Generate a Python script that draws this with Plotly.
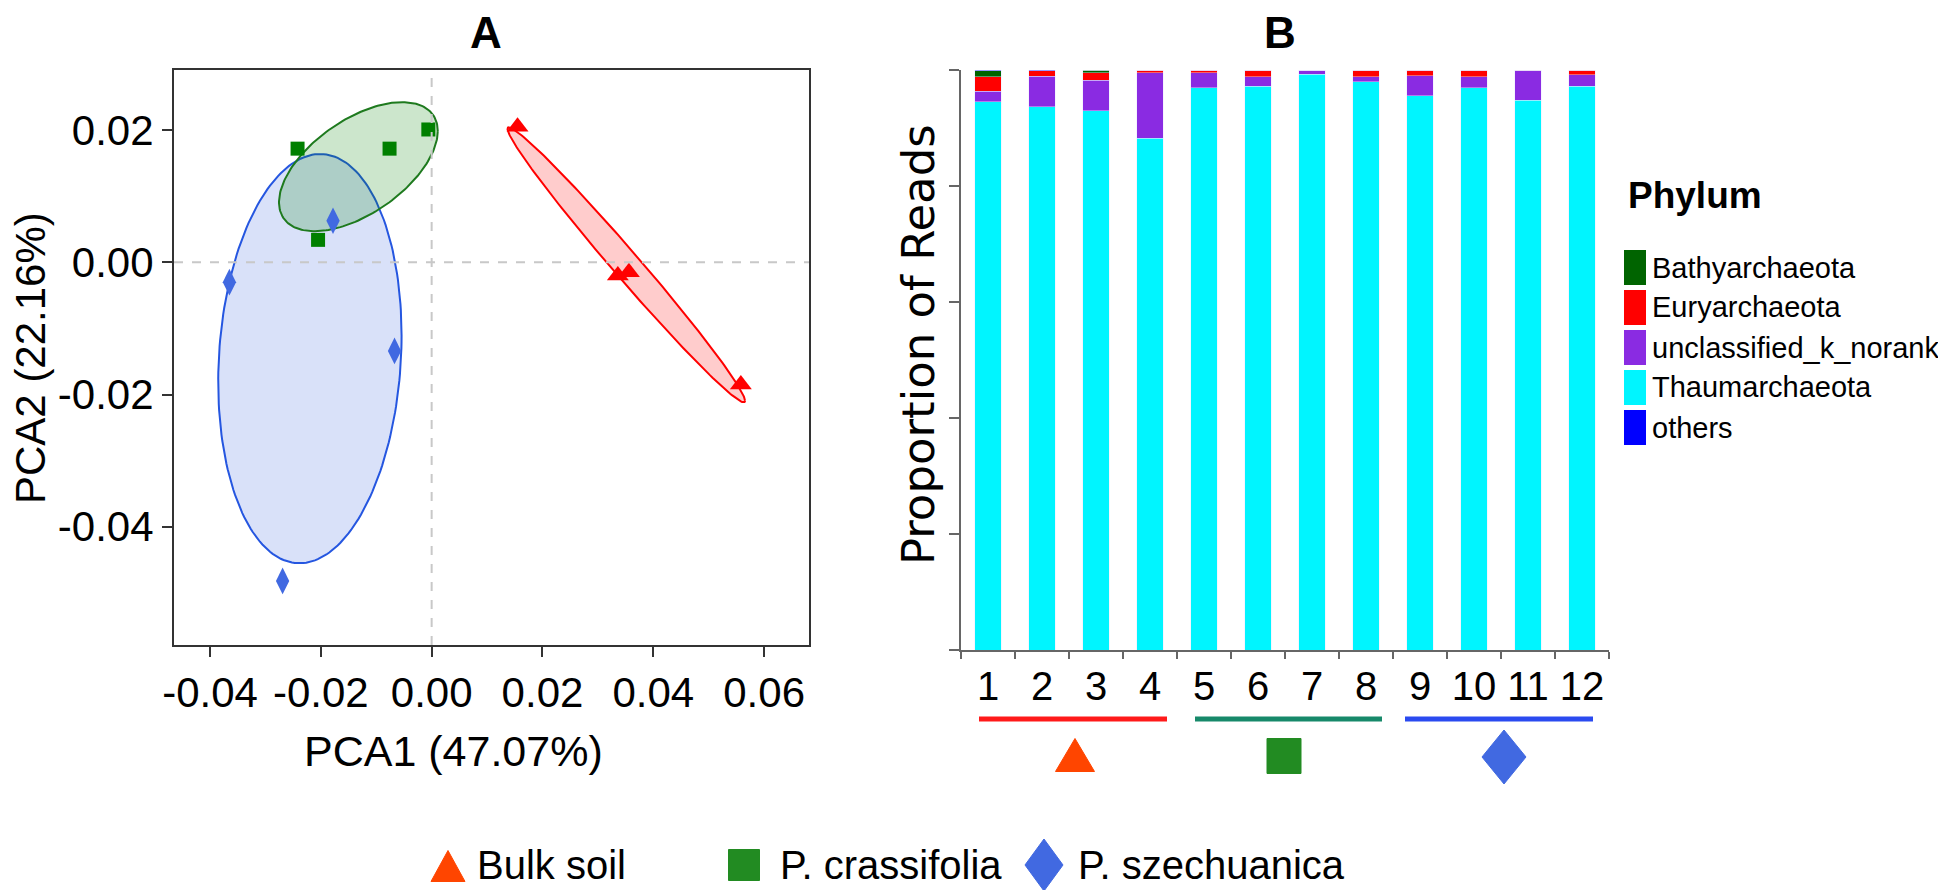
import numpy as np
import plotly.graph_objects as go

W, H = 1946, 890

# ---------------- Panel A data (PCA scores) ----------------
group_names = ["Bulk soil", "P. crassifolia", "P. szechuanica"]
bulk_x = [0.0155, 0.0336, 0.0356, 0.0558]
bulk_y = [0.0205, -0.0020, -0.0015, -0.0185]
cras_x = [-0.0242, -0.0076, -0.0006, -0.0205]
cras_y = [0.0172, 0.0172, 0.0201, 0.0034]
sze_x = [-0.0178, -0.0365, -0.0067, -0.0269]
sze_y = [0.0063, -0.0030, -0.0134, -0.0482]
pca_x_ticks = [-0.04, -0.02, 0.0, 0.02, 0.04, 0.06]
pca_x_labels = ["-0.04", "-0.02", "0.00", "0.02", "0.04", "0.06"]
pca_y_ticks = [-0.04, -0.02, 0.0, 0.02]
pca_y_labels = ["-0.04", "-0.02", "0.00", "0.02"]

# ---------------- Panel B data (relative abundance) ----------------
samples = ["1", "2", "3", "4", "5", "6", "7", "8", "9", "10", "11", "12"]
thaum = [0.945, 0.937, 0.930, 0.882, 0.969, 0.972, 0.993, 0.980, 0.956, 0.969, 0.948, 0.972]
unclass = [0.018, 0.052, 0.052, 0.113, 0.026, 0.016, 0.007, 0.008, 0.034, 0.019, 0.051, 0.020]
eury = [0.025, 0.010, 0.013, 0.005, 0.005, 0.012, 0.000, 0.012, 0.010, 0.012, 0.001, 0.008]
bathy = [0.011, 0.000, 0.005, 0.000, 0.000, 0.000, 0.000, 0.000, 0.000, 0.000, 0.000, 0.000]
others = [0.001, 0.001, 0.000, 0.000, 0.000, 0.000, 0.000, 0.000, 0.000, 0.000, 0.000, 0.000]
phyla = ["Bathyarchaeota", "Euryarchaeota", "unclassified_k_norank", "Thaumarchaeota", "others"]
phyla_colors = ["#006400", "#FF0000", "#8A2BE2", "#00F5FF", "#0000FF"]

FONT = "Liberation Sans, Arial, sans-serif"

def px(x):
    return x / W

def py(y):
    return 1 - y / H

def ellipse(xs, ys, k=1.3, n=200):
    pts = np.vstack([xs, ys])
    mu = pts.mean(axis=1)
    cov = np.cov(pts)
    L = np.linalg.cholesky(cov)
    t = np.linspace(0, 2 * np.pi, n)
    circ = np.vstack([np.cos(t), np.sin(t)])
    e = mu[:, None] + k * L @ circ
    return e[0], e[1]

fig = go.Figure()

# Ellipses (blue first, then green, then red)
ell_specs = [
    (sze_x, sze_y, "rgba(65,105,225,0.2)", "#2556E0"),
    (cras_x, cras_y, "rgba(0,128,0,0.2)", "#1E7A1E"),
    (bulk_x, bulk_y, "rgba(255,0,0,0.2)", "#FF0000"),
]
for xs, ys, fill, line in ell_specs:
    ex, ey = ellipse(xs, ys)
    fig.add_trace(go.Scatter(x=ex, y=ey, mode="lines", fill="toself", fillcolor=fill,
                             line=dict(color=line, width=2), xaxis="x", yaxis="y",
                             showlegend=False, hoverinfo="skip"))

# Points
fig.add_trace(go.Scatter(x=bulk_x, y=bulk_y, mode="markers", name=group_names[0],
                         marker=dict(symbol="triangle-up", size=19, color="#FF0000"),
                         xaxis="x", yaxis="y", showlegend=False))
fig.add_trace(go.Scatter(x=cras_x, y=cras_y, mode="markers", name=group_names[1],
                         marker=dict(symbol="square", size=14, color="#008000"),
                         xaxis="x", yaxis="y", showlegend=False))
fig.add_trace(go.Scatter(x=sze_x, y=sze_y, mode="markers", name=group_names[2],
                         marker=dict(symbol="diamond-tall", size=19, color="#4169E1"),
                         xaxis="x", yaxis="y", showlegend=False))

# Stacked bars (bottom to top)
stack = [(thaum, 3), (unclass, 2), (eury, 1), (bathy, 0), (others, 4)]
for vals, idx in stack:
    fig.add_trace(go.Bar(x=samples, y=vals, name=phyla[idx], marker=dict(color=phyla_colors[idx],
                         line=dict(color="rgba(230,230,255,0.7)", width=0.6)),
                         xaxis="x2", yaxis="y2", showlegend=False))

shapes = []
# zero lines panel A
shapes.append(dict(type="line", xref="x", yref="y domain", x0=0, x1=0, y0=0, y1=1,
                   line=dict(color="#C8C8C8", width=2, dash="dash")))
shapes.append(dict(type="line", xref="x domain", yref="y", x0=0, x1=1, y0=0, y1=0,
                   line=dict(color="#C8C8C8", width=2, dash="dash")))

# group lines under panel B
grp_line_colors = ["#FF1A1A", "#17896A", "#2A4AF0"]
grp_line_x = [(971, 1159), (1187, 1374), (1397, 1585)]
for c, (a, b) in zip(grp_line_colors, grp_line_x):
    shapes.append(dict(type="line", xref="paper", yref="paper", x0=px(a), x1=px(b),
                       y0=py(711), y1=py(711), line=dict(color=c, width=5)))

# group symbols (decorative key marks) drawn as paper-space paths
grp_colors = ["#FF4500", "#228B22", "#4169E1"]

def sym_path(kind, cx, cy, w, h):
    if kind == "tri":
        pts = [(cx - w / 2, cy + h / 2), (cx + w / 2, cy + h / 2), (cx, cy - h / 2)]
    elif kind == "sq":
        pts = [(cx - w / 2, cy - h / 2), (cx + w / 2, cy - h / 2), (cx + w / 2, cy + h / 2), (cx - w / 2, cy + h / 2)]
    else:
        pts = [(cx, cy - h / 2), (cx + w / 2, cy), (cx, cy + h / 2), (cx - w / 2, cy)]
    return "M " + " L ".join(f"{px(x):.5f},{py(y):.5f}" for x, y in pts) + " Z"

sym_kinds = ["tri", "sq", "dia"]
key_under_b = [(1067, 747, 39, 33), (1276, 748, 34, 35), (1496, 749, 44, 54)]
key_bottom = [(440, 858, 34, 31), (736, 857, 31, 31), (1036, 857, 38, 52)]
for spec_list in (key_under_b, key_bottom):
    for i, (cx, cy, w, h) in enumerate(spec_list):
        shapes.append(dict(type="path", xref="paper", yref="paper", path=sym_path(sym_kinds[i], cx, cy, w, h),
                           fillcolor=grp_colors[i], line=dict(color=grp_colors[i], width=1)))

# Phylum legend swatches
leg_order = [0, 1, 2, 3, 4]
for j, idx in enumerate(leg_order):
    yc = 259.5 + 40 * j
    shapes.append(dict(type="rect", xref="paper", yref="paper", x0=px(1616), x1=px(1638),
                       y0=py(yc + 17.5), y1=py(yc - 17.5), fillcolor=phyla_colors[idx],
                       line=dict(width=0)))

def ann(text, x, y, size, family=FONT, xanchor="center", angle=0):
    return dict(text=text, x=px(x), y=py(y), xref="paper", yref="paper", xanchor=xanchor,
                yanchor="middle", textangle=angle, showarrow=False,
                font=dict(family=family, size=size, color="black"))

annotations = [
    ann("<b>A</b>", 478, 25, 44),
    ann("<b>B</b>", 1272, 25, 44),
    ann("PCA1 (47.07%)", 445, 743, 43),
    ann("PCA2 (22.16%)", 22, 350, 42, angle=-90),
    ann("Proportion of Reads", 910, 337, 45, family="DejaVu Sans, sans-serif", angle=-90),
    ann("<b>Phylum</b>", 1618, 188, 37, xanchor="left"),
]
for j, idx in enumerate(leg_order):
    annotations.append(ann(phyla[idx], 1642, 259.5 + 40 * j, 29, xanchor="left"))
leg_tx = [467, 770, 1068]
for i in range(3):
    annotations.append(ann(group_names[i], leg_tx[i], 857, 40, xanchor="left"))

fig.update_layout(
    width=W, height=H, margin=dict(l=0, r=0, t=0, b=0, autoexpand=False),
    paper_bgcolor="white", plot_bgcolor="rgba(0,0,0,0)",
    showlegend=False, barmode="stack", bargap=0.51,
    font=dict(family=FONT, color="black"),
    xaxis=dict(domain=[px(166), px(801)], range=[-0.0465, 0.0681], tickvals=pca_x_ticks, ticktext=pca_x_labels,
               ticks="outside", ticklen=10, tickwidth=2, tickcolor="#333", tickangle=0, automargin=False,
               showline=True, linecolor="#333", linewidth=2, mirror=True, showgrid=False, zeroline=False,
               tickfont=dict(family=FONT, size=42, color="black"), anchor="y"),
    yaxis=dict(domain=[py(637), py(62)], range=[-0.0579, 0.0291], tickvals=pca_y_ticks, ticktext=pca_y_labels,
               ticks="outside", ticklen=10, tickwidth=2, tickcolor="#333", automargin=False,
               showline=True, linecolor="#333", linewidth=2, mirror=True, showgrid=False, zeroline=False,
               tickfont=dict(family=FONT, size=42, color="black"), anchor="x"),
    xaxis2=dict(domain=[px(953), px(1601)], type="category", range=[-0.5, 11.5], tickson="boundaries",
                ticks="outside", ticklen=7, tickwidth=2, tickcolor="#666", showline=True, linecolor="#666",
                linewidth=2, showgrid=False, zeroline=False, tickangle=0, automargin=False,
                tickfont=dict(family=FONT, size=40, color="black"), anchor="y2"),
    yaxis2=dict(domain=[py(642), py(62)], range=[0, 1], tickvals=[0, 0.2, 0.4, 0.6, 0.8, 1.0],
                showticklabels=False, ticks="outside", ticklen=10, tickwidth=2, tickcolor="#666", automargin=False,
                showline=True, linecolor="#666", linewidth=2, showgrid=False, zeroline=False, anchor="x2"),
    shapes=shapes, annotations=annotations,
)

fig.write_html("out.html")
